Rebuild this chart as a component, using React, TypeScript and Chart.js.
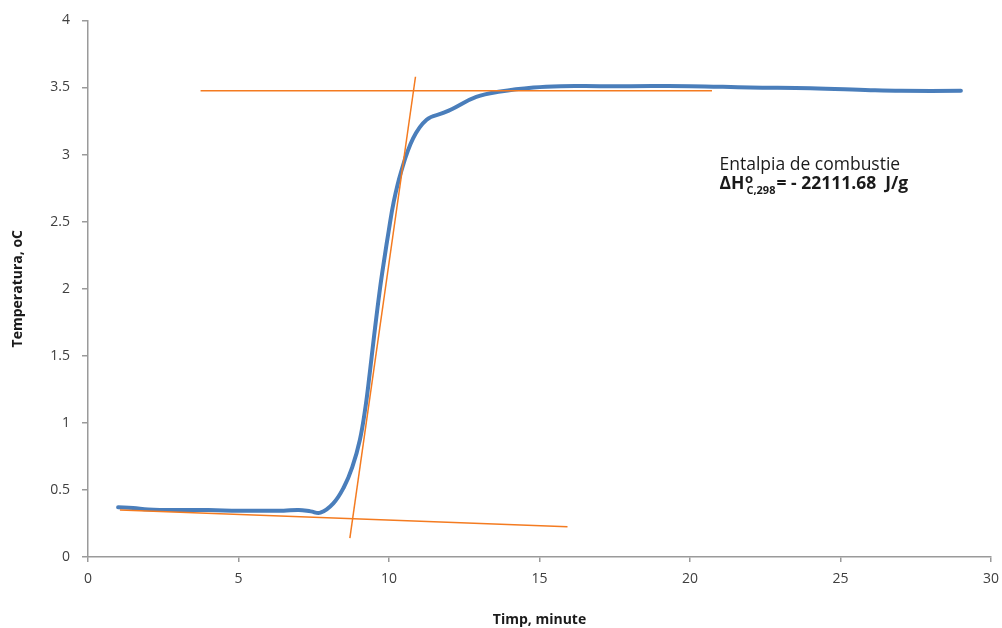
import React, { useEffect, useRef } from "react";
import { Chart, registerables } from "chart.js";

Chart.register(...registerables);

// Measured temperature rise during combustion
const timeMinutes = [
  1, 1.5, 2, 3, 4, 5, 6, 6.5, 7, 7.4, 7.72, 8.15, 8.5, 8.78, 9.03, 9.22, 9.36,
  9.49, 9.7, 9.85, 9.99, 10.15, 10.4, 10.8, 11.25, 11.8, 12.1, 12.9, 13.7, 14.8,
  15.7, 17, 18, 20, 22, 24, 26, 27, 29,
];
const temperature = [
  0.37, 0.365, 0.355, 0.35, 0.35, 0.345, 0.345, 0.345, 0.35, 0.34, 0.33, 0.4,
  0.52, 0.67, 0.87, 1.12, 1.37, 1.62, 2.0, 2.23, 2.43, 2.64, 2.87, 3.12, 3.26,
  3.31, 3.34, 3.43, 3.47, 3.5, 3.51, 3.51, 3.51, 3.51, 3.5, 3.495, 3.48, 3.475,
  3.475,
];

// Construction lines: initial drift, tangent at inflection, final plateau
const baselineX = [1.06, 15.93];
const baselineY = [0.35, 0.225];
const tangentX = [8.7, 10.88];
const tangentY = [0.14, 3.58];
const plateauX = [3.74, 20.73];
const plateauY = [3.475, 3.475];

const xTicks = [0, 5, 10, 15, 20, 25, 30];
const yTicks = [0, 0.5, 1, 1.5, 2, 2.5, 3, 3.5, 4];

const FONT = "'Open Sans', sans-serif";
const TEXT = "#404040";
const AXIS = "#9a9a9a";
const BLUE = "#4A7EBB";
const ORANGE = "#F47B20";

const toPoints = (xs: number[], ys: number[]) =>
  xs.map((x, i) => ({ x, y: ys[i] }));

const annotation = {
  id: "enthalpyNote",
  afterDraw(chart: any) {
    const ctx = chart.ctx as CanvasRenderingContext2D;
    const x0 = chart.scales.x.getPixelForValue(20.98);
    const y1 = chart.scales.y.getPixelForValue(2.885);
    const y2 = y1 + 19;
    ctx.save();
    ctx.fillStyle = "#1a1a1a";
    ctx.textBaseline = "alphabetic";
    ctx.textAlign = "left";
    ctx.font = `17.5px ${FONT}`;
    ctx.fillText("Entalpia de combustie", x0, y1);

    let x = x0;
    ctx.font = `bold 17.5px ${FONT}`;
    ctx.fillText("ΔH", x, y2);
    x += ctx.measureText("ΔH").width;
    ctx.font = `bold 13px ${FONT}`;
    ctx.fillText("o", x + 0.5, y2 - 6);
    ctx.font = `bold 11px ${FONT}`;
    ctx.fillText("C,298", x + 2, y2 + 5);
    x += ctx.measureText("C,298").width + 3;
    ctx.font = `bold 17.5px ${FONT}`;
    ctx.fillText("= - 22111.68  J/g", x, y2);
    ctx.restore();
  },
};

export default function App() {
  const ref = useRef<HTMLCanvasElement | null>(null);

  useEffect(() => {
    if (!ref.current) return;
    const chart = new Chart(ref.current, {
      type: "line",
      data: {
        datasets: [
          {
            data: toPoints(baselineX, baselineY),
            borderColor: ORANGE,
            borderWidth: 1.5,
            pointRadius: 0,
          },
          {
            data: toPoints(tangentX, tangentY),
            borderColor: ORANGE,
            borderWidth: 1.5,
            pointRadius: 0,
          },
          {
            data: toPoints(plateauX, plateauY),
            borderColor: ORANGE,
            borderWidth: 1.5,
            pointRadius: 0,
          },
          {
            data: toPoints(timeMinutes, temperature),
            borderColor: BLUE,
            borderWidth: 4,
            pointRadius: 0,
            tension: 0.4,
            borderCapStyle: "round",
            borderJoinStyle: "round",
          },
        ],
      },
      options: {
        animation: false,
        responsive: false,
        parsing: false as any,
        layout: { padding: { left: 0, right: 11, top: 20, bottom: 0 } },
        plugins: {
          legend: { display: false },
          tooltip: { enabled: false },
        },
        scales: {
          x: {
            type: "linear",
            min: 0,
            max: 30,
            afterBuildTicks: (s: any) => {
              s.ticks = xTicks.map((v) => ({ value: v }));
            },
            afterFit: (s: any) => {
              s.height = 71;
              s.paddingLeft = 0;
              s.paddingRight = 0;
            },
            grid: {
              drawOnChartArea: false,
              drawTicks: true,
              tickLength: 5,
              color: AXIS,
              lineWidth: 1.5,
            },
            border: { display: true, color: AXIS, width: 1.5 },
            ticks: {
              color: TEXT,
              font: { family: FONT, size: 14 },
              padding: 9,
              maxRotation: 0,
              callback: (v: any) => String(v),
            },
            title: {
              display: true,
              text: "Timp, minute",
              color: "#1a1a1a",
              font: { family: FONT, size: 14, weight: "bold" },
              padding: { top: 0, bottom: 0 },
            },
          },
          y: {
            type: "linear",
            min: 0,
            max: 4,
            afterBuildTicks: (s: any) => {
              s.ticks = yTicks.map((v) => ({ value: v }));
            },
            afterFit: (s: any) => {
              s.width = 88;
            },
            grid: {
              drawOnChartArea: false,
              drawTicks: true,
              tickLength: 6,
              color: AXIS,
              lineWidth: 1.5,
            },
            border: { display: true, color: AXIS, width: 1.5 },
            ticks: {
              color: TEXT,
              font: { family: FONT, size: 14 },
              padding: 12,
              callback: (v: any) => String(v),
            },
            title: {
              display: true,
              text: "Temperatura, oC",
              color: "#1a1a1a",
              font: { family: FONT, size: 14, weight: "bold" },
              padding: { top: 10, bottom: 10 },
            },
          },
        },
      },
      plugins: [annotation],
    });
    return () => chart.destroy();
  }, []);

  return (
    <div
      style={{
        position: "fixed",
        left: 0,
        top: 0,
        width: 1002,
        height: 628,
        background: "#fff",
      }}
    >
      <canvas ref={ref} width={1002} height={628} />
    </div>
  );
}
